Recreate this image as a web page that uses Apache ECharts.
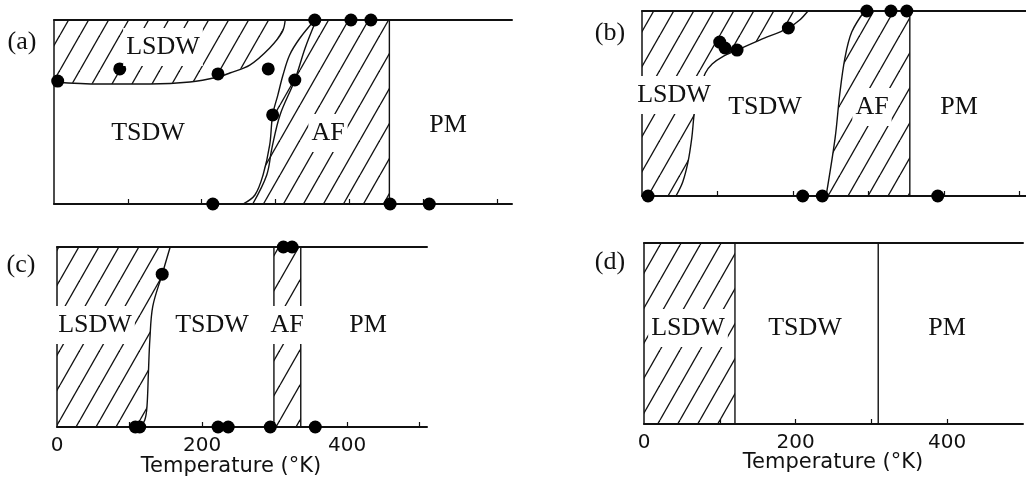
<!DOCTYPE html>
<html><head><meta charset="utf-8">
<script src="https://cdn.jsdelivr.net/npm/echarts@6/dist/echarts.min.js"></script>
<style>html,body{margin:0;padding:0;background:#fff}#c{width:1026px;height:486px}</style>
</head><body><div id="c"></div>
<script>
// ---------- data ----------
const regionNames = ['LSDW', 'TSDW', 'AF', 'PM'];
const panelTags = ['(a)', '(b)', '(c)', '(d)'];
const tempTickLabels = [0, 200, 400];
const tempMinorTicks = [100, 200, 300, 400, 500, 600];
const axisTitle = 'Temperature (°K)';

// panel (a): [temperature K, relative position 0..1]
const aPoints = [[5,0.668],[89,0.734],[222,0.707],[290,0.734],[326,0.674],[296,0.484],[215,0],[353,1],[402,1],[429,1],[455,0],[508,0]];
const aLsdw = [[0,0.663],[62,0.652],[130,0.652],[184,0.663],[222,0.69],[238,0.712],[265,0.755],[292,0.848],[309,0.935],[313,1]];
const aAf1 = [[256,0],[272,0.049],[283,0.158],[292,0.321],[296,0.484],[303,0.592],[310,0.701],[319,0.81],[333,0.902],[353,1]];
const aAf2 = [[269,0],[288,0.158],[295,0.304],[306,0.484],[326,0.674],[340,0.848],[355,1]];
const aPm = 454;

// panel (b)
const bPoints = [[8,0],[103,0.832],[110,0.8],[126,0.789],[194,0.908],[298,1],[330,1],[351,1],[213,0],[239,0],[392,0]];
const bLsdw = [[220,1],[209,0.951],[194,0.908],[156,0.843],[126,0.789],[106,0.751],[93,0.714],[84,0.665],[77,0.573],[70,0.465],[66,0.314],[61,0.184],[54,0.076],[45,0]];
const bAf = [[244,0],[256,0.314],[262,0.546],[269,0.746],[278,0.886],[295,1]];
const bPm = 355;

// panel (c)
const cPoints = [[145,0.849],[108,0],[114,0],[222,0],[236,0],[294,0],[312,1],[324,1],[356,0]];
const cLsdw = [[156,1],[145,0.849],[132,0.67],[128,0.486],[126,0.302],[124,0.112],[121,0.039],[114,0]];
const cAfLeft = 299;
const cAfRight = 336;

// panel (d)
const dLsdw = 120;
const dPm = 309;

// ---------- layout ----------
const grids = [
  {left: 54, top: 20, width: 458, height: 184},
  {left: 642, top: 11, width: 384, height: 185},
  {left: 57, top: 247, width: 370, height: 180},
  {left: 644, top: 243, width: 379, height: 181}
];
const xMax = [620, 509, 510, 500];

function makeHatch() {
  const w = 20, h = 35;
  const c = document.createElement('canvas');
  c.width = w; c.height = h;
  const g = c.getContext('2d');
  g.strokeStyle = '#111';
  g.lineWidth = 1.35;
  for (const o of [-w, 0, w]) {
    g.beginPath(); g.moveTo(o, h); g.lineTo(o + w, 0); g.stroke();
  }
  return c;
}
const hatchFill = {image: makeHatch(), repeat: 'repeat'};

const xAxes = [], yAxes = [];
grids.forEach((gr, i) => {
  const showLabels = i >= 2;
  xAxes.push({
    type: 'value', gridIndex: i, min: 0, max: xMax[i], position: 'bottom',
    axisLine: {show: true, onZero: false, lineStyle: {color: '#111', width: 2}},
    axisTick: {show: true, inside: true, length: 5, lineStyle: {color: '#111', width: 1.2},
               customValues: tempMinorTicks.filter(v => v < xMax[i])},
    axisLabel: {show: showLabels, customValues: tempTickLabels, margin: 9,
                fontFamily: 'DejaVu Sans', fontSize: 20, color: '#111'},
    splitLine: {show: false}
  });
  xAxes.push({
    type: 'value', gridIndex: i, min: 0, max: xMax[i], position: 'top',
    axisLine: {show: true, onZero: false, lineStyle: {color: '#111', width: 2}},
    axisTick: {show: false}, axisLabel: {show: false}, splitLine: {show: false}
  });
  yAxes.push({
    type: 'value', gridIndex: i, min: 0, max: 1,
    axisLine: {show: true, onZero: false, lineStyle: {color: '#111', width: 1.5}},
    axisTick: {show: false}, axisLabel: {show: false}, splitLine: {show: false}
  });
});

const series = [];
function region(i, poly) {
  series.push({
    type: 'custom', xAxisIndex: 2 * i, yAxisIndex: i, silent: true, z: 1,
    data: [[0, 0]],
    renderItem: (params, api) => ({
      type: 'polygon',
      shape: {points: poly.map(p => api.coord(p))},
      style: {fill: hatchFill, stroke: null}
    })
  });
}
function curve(i, pts, smooth) {
  series.push({
    type: 'line', xAxisIndex: 2 * i, yAxisIndex: i, data: pts, showSymbol: false,
    smooth: smooth ? 0.35 : false, silent: true, z: 3,
    lineStyle: {color: '#111', width: 1.4}
  });
}
function vline(i, t) { curve(i, [[t, 0], [t, 1]], false); }
function dots(i, pts) {
  series.push({
    type: 'scatter', xAxisIndex: 2 * i, yAxisIndex: i, data: pts, symbolSize: 13, z: 5,
    itemStyle: {color: '#000', opacity: 1}, silent: true
  });
}

// (a)
region(0, [[0, 1], ...aLsdw.slice().reverse()]);
region(0, [...aAf1, [aPm, 1], [aPm, 0]]);
curve(0, aLsdw, true); curve(0, aAf1, true); curve(0, aAf2, true); vline(0, aPm);
dots(0, aPoints);
// (b)
region(1, [[0, 0], [0, 1], ...bLsdw]);
region(1, [...bAf, [bPm, 1], [bPm, 0]]);
curve(1, bLsdw, true); curve(1, bAf, true); vline(1, bPm);
dots(1, bPoints);
// (c)
region(2, [[0, 0], [0, 1], ...cLsdw]);
region(2, [[cAfLeft, 0], [cAfLeft, 1], [cAfRight, 1], [cAfRight, 0]]);
curve(2, cLsdw, true); vline(2, cAfLeft); vline(2, cAfRight);
dots(2, cPoints);
// (d)
region(3, [[0, 0], [0, 1], [dLsdw, 1], [dLsdw, 0]]);
vline(3, dLsdw); vline(3, dPm);

// ---------- text ----------
const serif = '26px "Liberation Serif", "DejaVu Serif", serif';
function txt(s, x, y, font, bg) {
  return {type: 'text', x, y, z: 100,
    style: {text: s, font, fill: '#111', align: 'center', verticalAlign: 'middle',
            backgroundColor: bg ? '#fff' : null, padding: bg ? [6, 3] : 0}};
}
const [L, T, A, P] = regionNames;
const graphic = [
  txt(panelTags[0], 22, 42, serif, false),
  txt(L, 163, 47, serif, true), txt(T, 148, 133, serif, true), txt(A, 328, 133, serif, true), txt(P, 448, 125, serif, true),
  txt(panelTags[1], 610, 33, serif, false),
  txt(L, 674, 95, serif, true), txt(T, 765, 107, serif, true), txt(A, 872, 107, serif, true), txt(P, 959, 107, serif, true),
  txt(panelTags[2], 21, 265, serif, false),
  txt(L, 95, 325, serif, true), txt(T, 212, 325, serif, true), txt(A, 287, 325, serif, true), txt(P, 368, 325, serif, true),
  txt(panelTags[3], 610, 262, serif, false),
  txt(L, 688, 328, serif, true), txt(T, 805, 328, serif, true), txt(P, 947, 328, serif, true),
  txt(axisTitle, 231, 467, '21px "DejaVu Sans", sans-serif', false),
  txt(axisTitle, 833, 463, '21px "DejaVu Sans", sans-serif', false)
];

const chart = echarts.init(document.getElementById('c'), null, {renderer: 'canvas'});
chart.setOption({
  animation: false,
  backgroundColor: '#fff',
  grid: grids.map(g => Object.assign({containLabel: false}, g)),
  xAxis: xAxes, yAxis: yAxes, series, graphic
});
</script></body></html>
